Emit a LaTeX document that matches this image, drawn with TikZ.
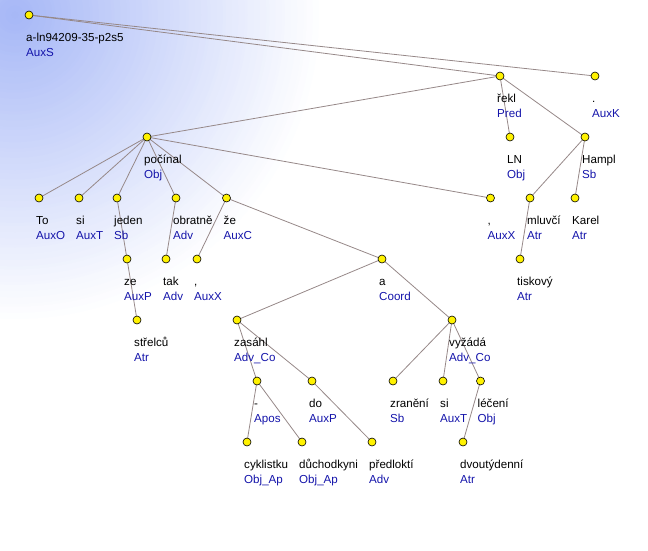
\documentclass[tikz,border=0pt]{standalone}
\usepackage{fontspec}
\setmainfont{Liberation Sans}
\pgfdeclarelayer{edgelayer}
\pgfsetlayers{edgelayer,main}
\definecolor{edgecol}{RGB}{150,136,136}
\definecolor{funccol}{RGB}{20,20,170}
\definecolor{bgblue}{RGB}{100,130,240}
\tikzset{
  dot/.style={circle, draw=black, line width=0.6pt, fill=yellow, minimum size=8pt, inner sep=0pt},
  wordtext/.style={anchor=base west, inner sep=0pt, font=\fontsize{11.6}{13}\selectfont, text=black},
  functext/.style={anchor=base west, inner sep=0pt, font=\fontsize{11.6}{13}\selectfont, text=funccol},
  edge/.style={draw=edgecol, line width=0.8pt}
}
\newcommand\tnode[5]{%
  \node[dot] (#1) at (#2,#3) {};
  \node[wordtext] (#1w) at ([xshift=-3pt,yshift=-26pt]#1.center) {#4};
  \node[functext] (#1f) at ([xshift=-3pt,yshift=-41pt]#1.center) {#5};
}
\begin{document}
\begin{tikzpicture}[x=1pt,y=-1pt]
\useasboundingbox (0,0) rectangle (648,550);
\begin{pgfonlayer}{edgelayer}
  \begin{scope}
    \clip (0,0) rectangle (648,550);
    \foreach \i in {100,99,...,1} {
      \pgfmathtruncatemacro\p{58*(1-\i/100)}
      \fill[bgblue!\p!white] (15,15) circle ({3.1*\i});
    }
  \end{scope}
\end{pgfonlayer}
\tnode{root}{29}{15}{a-ln94209-35-p2s5}{AuxS}
\tnode{rekl}{500}{76}{řekl}{Pred}
\tnode{auxk}{595}{76}{.}{AuxK}
\tnode{pocinal}{147}{137}{počínal}{Obj}
\tnode{ln}{510}{137}{LN}{Obj}
\tnode{hampl}{585}{137}{Hampl}{Sb}
\tnode{to}{39}{198}{To}{AuxO}
\tnode{sione}{79}{198}{si}{AuxT}
\tnode{jeden}{117}{198}{jeden}{Sb}
\tnode{obratne}{176}{198}{obratně}{Adv}
\tnode{zeone}{226.5}{198}{že}{AuxC}
\tnode{commatwo}{490.5}{198}{,}{AuxX}
\tnode{mluvci}{530}{198}{mluvčí}{Atr}
\tnode{karel}{575}{198}{Karel}{Atr}
\tnode{zetwo}{127}{259}{ze}{AuxP}
\tnode{tak}{166}{259}{tak}{Adv}
\tnode{commaone}{197}{259}{,}{AuxX}
\tnode{a}{382}{259}{a}{Coord}
\tnode{tiskovy}{520}{259}{tiskový}{Atr}
\tnode{strelcu}{137}{320}{střelců}{Atr}
\tnode{zasahl}{237}{320}{zasáhl}{Adv\_Co}
\tnode{vyzada}{452}{320}{vyžádá}{Adv\_Co}
\tnode{dash}{257}{381}{-}{Apos}
\tnode{do}{312}{381}{do}{AuxP}
\tnode{zraneni}{393}{381}{zranění}{Sb}
\tnode{sitwo}{443}{381}{si}{AuxT}
\tnode{leceni}{480.5}{381}{léčení}{Obj}
\tnode{cyklistku}{247}{442}{cyklistku}{Obj\_Ap}
\tnode{duchodkyni}{302}{442}{důchodkyni}{Obj\_Ap}
\tnode{predlokti}{372}{442}{předloktí}{Adv}
\tnode{dvoutydenni}{463}{442}{dvoutýdenní}{Atr}
\begin{pgfonlayer}{edgelayer}
  \draw[edge] (root.center) -- (rekl.center);
  \draw[edge] (root.center) -- (auxk.center);
  \draw[edge] (rekl.center) -- (pocinal.center);
  \draw[edge] (rekl.center) -- (ln.center);
  \draw[edge] (rekl.center) -- (hampl.center);
  \draw[edge] (hampl.center) -- (mluvci.center);
  \draw[edge] (hampl.center) -- (karel.center);
  \draw[edge] (mluvci.center) -- (tiskovy.center);
  \draw[edge] (pocinal.center) -- (to.center);
  \draw[edge] (pocinal.center) -- (sione.center);
  \draw[edge] (pocinal.center) -- (jeden.center);
  \draw[edge] (pocinal.center) -- (obratne.center);
  \draw[edge] (pocinal.center) -- (zeone.center);
  \draw[edge] (pocinal.center) -- (commatwo.center);
  \draw[edge] (jeden.center) -- (zetwo.center);
  \draw[edge] (zetwo.center) -- (strelcu.center);
  \draw[edge] (obratne.center) -- (tak.center);
  \draw[edge] (zeone.center) -- (commaone.center);
  \draw[edge] (zeone.center) -- (a.center);
  \draw[edge] (a.center) -- (zasahl.center);
  \draw[edge] (a.center) -- (vyzada.center);
  \draw[edge] (zasahl.center) -- (dash.center);
  \draw[edge] (zasahl.center) -- (do.center);
  \draw[edge] (dash.center) -- (cyklistku.center);
  \draw[edge] (dash.center) -- (duchodkyni.center);
  \draw[edge] (do.center) -- (predlokti.center);
  \draw[edge] (vyzada.center) -- (zraneni.center);
  \draw[edge] (vyzada.center) -- (sitwo.center);
  \draw[edge] (vyzada.center) -- (leceni.center);
  \draw[edge] (leceni.center) -- (dvoutydenni.center);
\end{pgfonlayer}
\end{tikzpicture}
\end{document}
